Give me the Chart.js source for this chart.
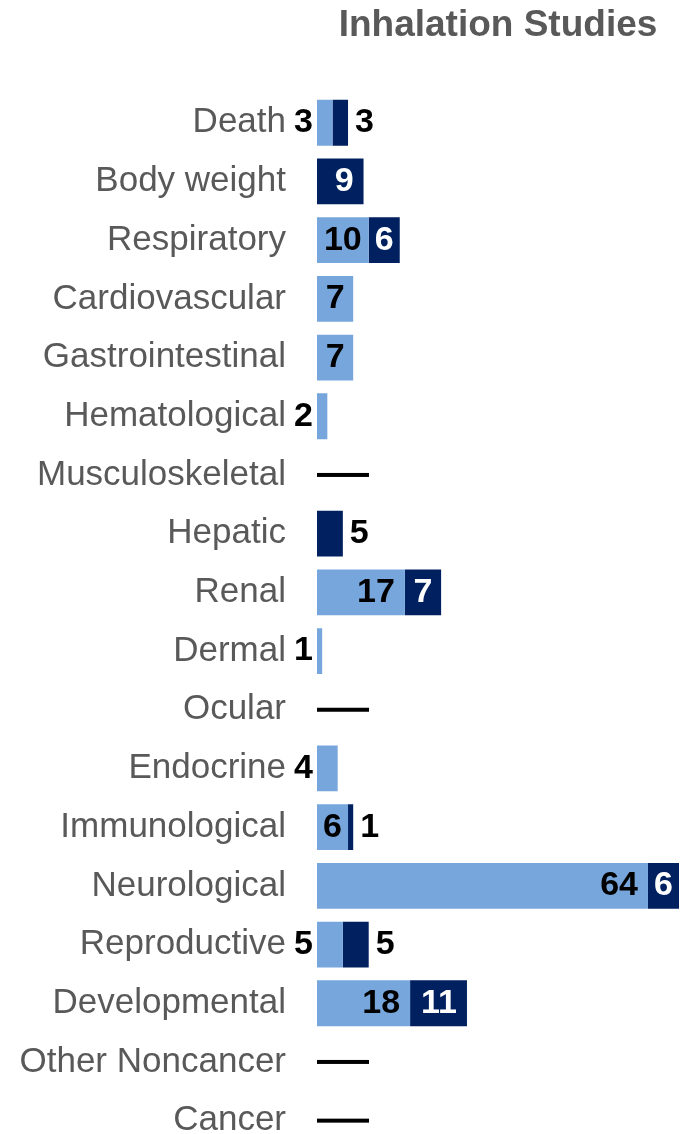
<!DOCTYPE html>
<html>
<head>
<meta charset="utf-8">
<script src="https://cdn.jsdelivr.net/npm/chart.js@4"></script>
<style>
  html, body { margin: 0; padding: 0; background: #fff; overflow: hidden; }
  #wrap { width: 680px; height: 1202px; }
</style>
</head>
<body>
<div id="wrap"><canvas id="chart" width="680" height="1202"></canvas></div>
<script>
// Health effect categories, top to bottom
const categories = [
  'Death', 'Body weight', 'Respiratory', 'Cardiovascular', 'Gastrointestinal',
  'Hematological', 'Musculoskeletal', 'Hepatic', 'Renal', 'Dermal', 'Ocular',
  'Endocrine', 'Immunological', 'Neurological', 'Reproductive', 'Developmental',
  'Other Noncancer', 'Cancer'
];
const groupA = [3, 0, 10, 7, 7, 2, 0, 0, 17, 1, 0, 4, 6, 64, 5, 18, 0, 0];
const groupB = [3, 9, 6, 0, 0, 0, 0, 5, 7, 0, 0, 0, 1, 6, 5, 11, 0, 0];

const LIGHT = '#77a6dd';
const DARK = '#002060';
const GREY = '#595959';
const FONT = '"Liberation Sans", Arial, sans-serif';

const totals = categories.map((_, i) => groupA[i] + groupB[i]);

// numbers on or beside each bar segment
const valueLabels = {
  id: 'valueLabels',
  afterDatasetsDraw(chart) {
    const ctx = chart.ctx;
    ctx.save();
    ctx.font = 'bold 34px ' + FONT;
    ctx.textBaseline = 'middle';
    chart.data.datasets.forEach((ds, di) => {
      const meta = chart.getDatasetMeta(di);
      meta.data.forEach((bar, i) => {
        const v = ds.data[i];
        if (!v) return;
        const text = String(v);
        const w = ctx.measureText(text).width;
        const left = Math.min(bar.base, bar.x);
        const right = Math.max(bar.base, bar.x);
        const bw = right - left;
        if (bw >= w + 10) {
          const pad = Math.min(10, (bw - w) / 2);
          ctx.textAlign = 'right';
          ctx.fillStyle = di === 0 ? '#000' : '#fff';
          ctx.fillText(text, right - pad, bar.y);
        } else if (di === 0) {
          ctx.textAlign = 'right';
          ctx.fillStyle = '#000';
          ctx.fillText(text, left - 4, bar.y);
        } else {
          ctx.textAlign = 'left';
          ctx.fillStyle = '#000';
          ctx.fillText(text, right + 7, bar.y);
        }
      });
    });
    ctx.restore();
  }
};

// short black dash for categories with no studies
const zeroDash = {
  id: 'zeroDash',
  afterDatasetsDraw(chart) {
    const { ctx, scales } = chart;
    const x0 = scales.x.getPixelForValue(0);
    ctx.save();
    ctx.fillStyle = '#000';
    totals.forEach((t, i) => {
      if (t !== 0) return;
      const y = scales.y.getPixelForValue(i);
      ctx.fillRect(x0, y - 2, 52, 4);
    });
    ctx.restore();
  }
};

new Chart(document.getElementById('chart'), {
  type: 'bar',
  data: {
    labels: categories,
    datasets: [
      { label: 'Group A', data: groupA, backgroundColor: LIGHT, borderWidth: 0 },
      { label: 'Group B', data: groupB, backgroundColor: DARK, borderWidth: 0 }
    ]
  },
  options: {
    indexAxis: 'y',
    responsive: false,
    animation: false,
    barPercentage: 0.78,
    categoryPercentage: 1,
    layout: { padding: { top: 0, right: 1, bottom: 0, left: 0 } },
    plugins: {
      legend: { display: false },
      tooltip: { enabled: false },
      title: {
        display: true,
        text: 'Inhalation Studies',
        color: GREY,
        fullSize: false,
        font: { family: FONT, size: 37, weight: 'bold' },
        padding: { top: 4, bottom: 45 }
      }
    },
    scales: {
      x: {
        stacked: true,
        display: false,
        min: 0,
        max: Math.max(...totals)
      },
      y: {
        stacked: true,
        grid: { display: false, drawTicks: false },
        border: { display: false },
        afterFit(scale) { scale.width = 317; },
        ticks: {
          color: GREY,
          padding: 31,
          autoSkip: false,
          font: { family: FONT, size: 35 }
        }
      }
    }
  },
  plugins: [valueLabels, zeroDash]
});
</script>
</body>
</html>
